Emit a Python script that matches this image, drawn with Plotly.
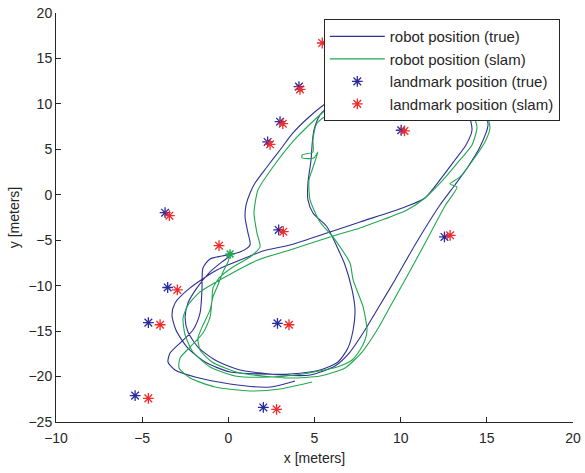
import plotly.graph_objects as go

# robot position (true)
true_x = [0.10, -0.37, -1.06, -1.82, -2.34, -2.51, -2.34, -1.76, -0.77, 0.68, 3.17, 4.74, 6.19, 7.06,
          7.93, 8.80, 9.67, 10.83, 12.28, 13.15, 13.90, 14.60, 15.07, 14.84, 14.31, 12.86, 11.12, 9.38,
          7.64, 6.60, 5.90, 5.32, 4.97, 4.86, 4.80, 4.62, 4.62, 4.91, 5.73, 6.31, 6.77, 7.18, 7.35, 7.24,
          6.94, 6.36, 5.32, 3.58, 1.84, 0.10, -1.35, -2.40, -3.04, -3.27, -3.09, -2.22, -0.66, 1.26, 2.01,
          3.58, 5.90, 7.64, 10.25, 11.41, 12.28, 13.15, 13.79, 14.14, 13.91, 13.33, 12.28, 9.96, 7.93,
          6.48, 5.61, 4.62, 3.75, 3.00, 2.24, 1.55, 1.26, 1.03, 0.97, 1.14, 1.26, 0.68, -0.37, -1.06,
          -1.47, -1.53, -1.64, -2.05, -2.80, -3.38, -3.50, -3.09, -1.93, 0.10, 2.42, 3.87]
true_y = [-6.73, -7.39, -8.49, -10.25, -11.90, -13.45, -15.10, -16.75, -18.18, -19.28, -19.83, -19.83,
          -18.84, -17.30, -14.88, -12.12, -9.37, -5.52, -1.12, 1.08, 3.06, 5.26, 7.68, 9.33, 10.65, 12.08,
          12.85, 12.85, 12.19, 10.98, 9.88, 8.78, 7.13, 5.48, 3.83, 1.30, -0.57, -2.00, -3.54, -5.74,
          -7.72, -10.47, -12.67, -14.88, -16.86, -18.40, -19.28, -19.72, -19.72, -19.50, -18.40, -16.75,
          -14.88, -13.22, -11.90, -10.25, -8.27, -6.73, -6.18, -5.52, -4.09, -2.99, -1.34, -0.35, 1.63,
          3.83, 5.48, 7.13, 9.00, 10.10, 11.53, 12.08, 11.75, 10.98, 9.99, 8.45, 6.80, 4.93, 3.06, 1.30,
          0.20, -1.12, -2.44, -4.20, -5.52, -6.29, -6.73, -7.06, -8.05, -10.47, -13.00, -14.88, -16.31,
          -17.41, -18.40, -19.28, -20.05, -20.82, -21.15, -20.49]

# robot position (slam)
slam_x = [0.10, -0.02, -0.31, -0.60, -0.89, -1.06, -1.47, -1.76, -1.64, -0.95, 0.68, 3.58, 5.32, 6.77,
          7.76, 8.63, 9.44, 10.25, 11.36, 12.57, 13.27, 12.86, 13.44, 14.20, 14.89, 15.18, 15.01, 14.49,
          13.15, 11.12, 9.38, 7.76, 6.94, 6.60, 5.15, 4.91, 4.91, 4.28, 4.28, 4.97, 5.20, 4.86, 4.68, 4.74,
          5.32, 6.07, 7.06, 7.24, 7.82, 8.05, 7.93, 7.64, 7.18, 6.31, 4.33, 2.42, 0.39, -1.06, -2.05,
          -2.51, -2.63, -2.34, -1.64, -0.19, 1.72, 3.58, 5.90, 7.06, 7.64, 10.37, 11.41, 12.46, 13.44,
          14.14, 14.43, 14.14, 13.56, 12.28, 9.96, 7.93, 6.77, 5.78, 3.99, 2.59, 1.72, 1.49, 1.66, 1.84,
          1.26, 0.27, -0.48, -0.89, -0.95, -1.06, -1.47, -2.22, -2.80, -2.86, -2.22, -0.77, 1.26, 3.00, 4.86]
slam_y = [-6.51, -7.39, -8.49, -9.92, -11.24, -12.67, -14.33, -15.76, -17.08, -18.40, -19.61, -20.16,
          -19.94, -19.06, -17.30, -14.88, -12.12, -9.37, -5.52, -1.23, 0.86, 1.19, 1.96, 3.83, 5.81, 7.35,
          8.78, 9.99, 11.53, 12.41, 12.63, 11.97, 10.76, 9.88, 7.90, 6.03, 4.71, 4.38, 4.05, 4.05, 4.71,
          2.73, 1.63, -0.57, -2.99, -4.64, -7.50, -9.37, -12.34, -14.88, -15.98, -17.08, -18.18, -18.95,
          -19.72, -20.05, -19.94, -18.95, -17.30, -15.43, -13.56, -12.12, -10.69, -9.04, -7.17, -6.07,
          -4.64, -3.98, -3.65, -1.67, -0.35, 1.63, 3.83, 5.48, 7.46, 9.00, 10.10, 11.20, 11.75, 11.31,
          10.65, 9.55, 6.36, 3.06, 0.53, -2.00, -4.20, -5.74, -6.84, -7.94, -9.04, -10.25, -11.57,
          -13.45, -15.21, -16.75, -17.96, -19.06, -20.16, -21.15, -21.59, -21.37, -20.60]

# landmarks
lm_true_x = [4.10, 3.00, 2.28, 10.03, -3.67, 2.92, 12.54, -3.52, -4.64, 2.85, -5.41, 2.03]
lm_true_y = [11.90, 8.04, 5.81, 7.10, -1.97, -3.87, -4.64, -10.20, -14.07, -14.14, -22.10, -23.40]
lm_slam_x = [4.16, 3.16, 2.42, 10.22, -3.42, 3.19, 12.87, -2.96, -3.96, 3.52, -4.64, 2.80, -0.54, 5.45]
lm_slam_y = [11.60, 7.82, 5.55, 7.02, -2.30, -4.06, -4.46, -10.47, -14.30, -14.30, -22.40, -23.60, -5.60, 16.70]

x_ticks = [-10, -5, 0, 5, 10, 15, 20]
y_ticks = [-25, -20, -15, -10, -5, 0, 5, 10, 15, 20]

BLUE = "#2e3192"
GREEN = "#1fa84f"
LMBLUE = "#2b2b9e"
RED = "#f22a2a"
FONT = "Liberation Sans, Arial"
INK = "#262626"

fig = go.Figure()
fig.add_trace(go.Scatter(x=true_x, y=true_y, mode="lines", name="robot position (true)",
                         line=dict(color=BLUE, width=1.1, shape="spline", smoothing=0.7)))
fig.add_trace(go.Scatter(x=slam_x, y=slam_y, mode="lines", name="robot position (slam)",
                         line=dict(color=GREEN, width=1.1, shape="spline", smoothing=0.6)))
fig.add_trace(go.Scatter(x=slam_x[:1], y=slam_y[:1], mode="markers", showlegend=False,
                         marker=dict(symbol="asterisk-open", size=8, color=GREEN,
                                     line=dict(color=GREEN, width=1.5))))
fig.add_trace(go.Scatter(x=lm_true_x, y=lm_true_y, mode="markers", name="landmark position (true)",
                         marker=dict(symbol="asterisk-open", size=9, color=LMBLUE,
                                     line=dict(color=LMBLUE, width=1.3))))
fig.add_trace(go.Scatter(x=lm_slam_x, y=lm_slam_y, mode="markers", name="landmark position (slam)",
                         marker=dict(symbol="asterisk-open", size=9, color=RED,
                                     line=dict(color=RED, width=1.3))))

axis_common = dict(showgrid=False, zeroline=False, showline=True, linecolor=INK, linewidth=1,
                   ticks="inside", ticklen=5, tickcolor=INK, mirror=False, automargin=False,
                   ticklabeloverflow="allow",
                   tickfont=dict(family=FONT, size=14, color=INK))
fig.update_xaxes(range=[-10, 20], tickvals=x_ticks, ticklabelstandoff=3,
                 title=dict(text="x [meters]", standoff=8, font=dict(family=FONT, size=14, color=INK)),
                 **axis_common)
fig.update_yaxes(range=[-25, 20], tickvals=y_ticks,
                 title=dict(text="y [meters]", standoff=5, font=dict(family=FONT, size=14, color=INK)),
                 **axis_common)

fig.update_layout(
    width=585, height=473,
    margin=dict(l=56, r=12, t=13, b=51),
    paper_bgcolor="white", plot_bgcolor="white",
    showlegend=True,
    legend=dict(x=0.518, y=0.985, xanchor="left", yanchor="top", bgcolor="white",
                bordercolor=INK, borderwidth=1, tracegroupgap=0, itemwidth=55,
                font=dict(family=FONT, size=15, color=INK)),
)
fig.write_html("out.html", config={"displayModeBar": False},
               post_script="document.body.style.margin='0';")
